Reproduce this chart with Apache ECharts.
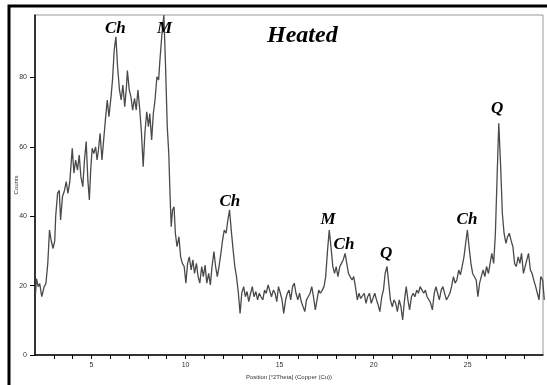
<!DOCTYPE html>
<html>
<head>
<meta charset="utf-8">
<script src="https://cdn.jsdelivr.net/npm/echarts@6/dist/echarts.min.js"></script>
<style>
  html, body { margin: 0; padding: 0; background: #fff; }
  #chart { width: 547px; height: 385px; }
</style>
</head>
<body>
<div id="chart"></div>
<script>
// position in degrees 2-theta
var twoTheta = [
  2.03,2.08,2.17,2.25,2.36,2.49,2.58,2.68,2.77,2.86,2.96,3.05,
  3.10,3.20,3.29,3.36,3.46,3.57,3.66,3.75,3.85,3.98,4.07,4.16,
  4.26,4.35,4.44,4.54,4.63,4.72,4.81,4.89,4.96,5.04,5.13,5.22,
  5.30,5.37,5.46,5.56,5.65,5.74,5.84,5.93,6.04,6.12,6.21,6.30,
  6.39,6.49,6.58,6.67,6.77,6.86,6.91,7.01,7.10,7.19,7.29,7.38,
  7.47,7.57,7.66,7.75,7.84,7.94,8.03,8.10,8.20,8.29,8.38,8.48,
  8.57,8.64,8.75,8.85,8.94,9.03,9.11,9.18,9.24,9.31,9.39,9.46,
  9.55,9.65,9.74,9.83,9.93,10.02,10.11,10.20,10.30,10.39,
  10.48,10.58,10.67,10.76,10.86,10.95,11.04,11.13,11.23,11.32,
  11.41,11.51,11.60,11.69,11.78,11.88,11.97,12.06,12.16,12.25,
  12.34,12.43,12.53,12.62,12.71,12.81,12.90,12.99,13.09,13.18,
  13.27,13.36,13.46,13.55,13.64,13.74,13.83,13.92,14.01,14.11,
  14.20,14.29,14.39,14.48,14.57,14.67,14.76,14.85,14.94,15.04,
  15.13,15.22,15.32,15.41,15.50,15.59,15.69,15.78,15.87,15.97,
  16.06,16.15,16.25,16.34,16.43,16.52,16.62,16.71,16.80,16.90,
  16.99,17.08,17.17,17.27,17.36,17.45,17.55,17.64,17.73,17.83,
  17.92,18.01,18.10,18.20,18.29,18.38,18.48,18.57,18.66,18.75,
  18.85,18.94,19.03,19.13,19.22,19.31,19.41,19.50,19.59,19.68,
  19.78,19.87,19.96,20.06,20.15,20.24,20.33,20.43,20.52,20.61,
  20.71,20.80,20.89,20.99,21.08,21.17,21.26,21.36,21.45,21.54,
  21.64,21.73,21.82,21.91,22.01,22.10,22.19,22.29,22.38,22.47,
  22.57,22.66,22.75,22.84,22.94,23.03,23.12,23.22,23.31,23.40,
  23.49,23.59,23.68,23.77,23.87,23.96,24.05,24.14,24.24,24.33,
  24.42,24.52,24.61,24.70,24.80,24.89,24.98,25.07,25.17,25.26,
  25.35,25.45,25.54,25.63,25.72,25.82,25.91,26.00,26.10,26.19,
  26.28,26.38,26.47,26.56,26.65,26.75,26.84,26.93,27.03,27.12,
  27.21,27.30,27.40,27.49,27.58,27.68,27.77,27.86,27.96,28.05,
  28.14,28.23,28.33,28.42,28.51,28.61,28.70,28.79,28.88,28.98,
  29.07
];

// counts
var counts = [
  17.8,22,19.7,20.6,16.8,19.7,20.6,26.4,36,33,30.7,33,
  40,46.6,47.5,38.9,45.6,47.5,50,46.6,50,59.6,52.4,56.2,
  53.3,57.6,51.4,48.5,56.2,61.5,50.4,44.7,53.3,59.6,58.1,60,
  56.2,59,63.9,56.2,62,67.7,73.5,68.7,74.4,79.3,87.9,91.7,
  83,76.4,73.5,77.8,71.6,77.3,82,76.4,74.4,70.6,74,70.6,
  76.4,70.6,63.9,54.3,63.9,70.1,65.8,69.6,62,69.6,73.5,80.2,
  79.3,85,92.7,98,83,65.8,58.1,45.6,37,41.8,42.7,35.1,
  31.2,34.1,28.3,26.4,25.5,20.7,26.4,28.3,24.5,27.4,
  23.5,26.4,22.6,20.7,25.5,22.6,25.9,20.7,23.5,20.2,
  25.5,29.8,25.5,22.6,25.5,29.3,33.1,36,35.1,38.9,
  41.8,36,30.3,25.5,22.6,17.8,12,17.8,19.7,16.8,
  18.3,15.4,17.8,19.7,16.8,18.3,15.9,17.8,16.8,15.9,
  18.7,17.8,20.2,19.7,16.8,18.7,17.8,15.4,19.7,17.8,
  15.9,12,15.9,17.8,18.7,15.9,19.7,20.7,17.8,15.9,
  17.8,15.4,15.9,12.5,15.9,16.8,17.8,19.7,16.8,13,
  15.9,18.7,17.8,18.7,19.7,22.6,30.3,36,31.2,25.5,
  23.5,25.5,22.6,25.5,26.4,27.4,29.3,26.4,23.5,22.6,
  21.6,22.6,19.7,15.9,17.8,16.3,15.9,17.8,14.9,16.8,
  17.8,14.9,16.3,17.8,15.9,14.4,12.5,16.8,18.7,23.5,
  25.5,20.7,15.9,13.9,15.9,14.9,12.5,15.9,13.9,10.1,
  15.9,19.7,15.9,13,16.8,17.8,16.8,18.7,17.8,19.7,
  18.7,17.8,18.7,16.8,15.9,14.9,13,17.8,19.7,17.8,
  15.9,18.7,19.7,17.8,15.9,16.8,17.8,19.7,22.6,20.7,
  21.6,24.5,23.1,25.5,28.3,32.2,36,31.2,26.4,23.5,
  23.5,21.6,16.8,20.7,22.6,24.5,22.6,25.5,23.5,26.4,
  29.3,26.4,35.1,51.4,66.8,54.3,40.8,35.1,32.2,34.1,
  35.1,33.1,31.2,26.4,25.5,28.3,26.4,29.3,23.5,25.5,
  27.4,29.3,24.5,23.5,21.6,19.7,17.8,15.9,22.6,21.6,
  15.9
];

// phase labels (Ch = chlorite, M = mica, Q = quartz) and where they sit
var peakNames = ['Ch', 'M', 'Ch', 'M', 'Ch', 'Q', 'Ch', 'Q'];
var peakPos = [6.27, 8.88, 12.36, 17.57, 18.42, 20.66, 24.96, 26.56];
var peakCounts = [94, 94, 44.1, 38.9, 31.7, 29.1, 38.9, 70.9];

var yTicks = [0, 20, 40, 60, 80];

var chart = echarts.init(document.getElementById('chart'));

var serif = '"Liberation Serif", "DejaVu Serif", serif';
var labelFont = { fontFamily: 'Liberation Sans, Arial, sans-serif', fontSize: 7, color: '#333' };

var option = {
  animation: false,
  title: {
    text: 'Heated',
    left: 262,
    top: 19,
    textStyle: { fontFamily: serif, fontStyle: 'italic', fontWeight: 'bold', fontSize: 24, color: '#000' }
  },
  grid: {
    left: 35, right: 4, top: 15, bottom: 30,
    containLabel: false,
    outerBoundsMode: 'none',
    show: true, borderColor: '#999', borderWidth: 1
  },
  xAxis: {
    type: 'value',
    min: 2, max: 29, interval: 1,
    name: 'Position [°2Theta] (Copper (Cu))',
    nameLocation: 'middle',
    nameGap: 19,
    nameMoveOverlap: false,
    nameTextStyle: { fontFamily: 'Liberation Sans, Arial, sans-serif', fontSize: 6, color: '#333' },
    splitLine: { show: false },
    axisLine: { lineStyle: { color: '#000', width: 1.5 } },
    axisTick: { length: 4, lineStyle: { color: '#000' } },
    axisLabel: Object.assign({
      margin: 7,
      showMinLabel: false, showMaxLabel: false,
      formatter: function (v) { return v % 5 === 0 ? String(v) : ''; }
    }, labelFont)
  },
  yAxis: {
    type: 'value',
    min: 0, max: 98, interval: 20,
    name: 'Counts',
    nameLocation: 'middle',
    nameGap: 16,
    nameRotate: 90,
    nameMoveOverlap: false,
    nameTextStyle: { fontFamily: 'Liberation Sans, Arial, sans-serif', fontSize: 6, color: '#333' },
    splitLine: { show: false },
    axisLine: { show: true, lineStyle: { color: '#000', width: 1.5 } },
    axisTick: { show: true, length: 5, lineStyle: { color: '#000' } },
    axisLabel: Object.assign({
      margin: 8,
      showMaxLabel: false,
      formatter: function (v) { return yTicks.indexOf(v) >= 0 ? String(v) : ''; }
    }, labelFont)
  },
  series: [{
    type: 'line',
    data: twoTheta.map(function (x, i) { return [x, counts[i]]; }),
    showSymbol: false,
    clip: true,
    lineStyle: { color: '#4a4a4a', width: 1.3 },
    markPoint: {
      symbol: 'circle',
      symbolSize: 0,
      label: {
        show: true,
        position: 'inside',
        formatter: '{b}',
        fontFamily: serif,
        fontStyle: 'italic',
        fontWeight: 'bold',
        fontSize: 17,
        color: '#000'
      },
      data: peakNames.map(function (n, i) {
        return { name: n, coord: [peakPos[i], peakCounts[i]] };
      })
    }
  }],
  graphic: [{
    type: 'rect',
    silent: true,
    shape: { x: 9, y: 6, width: 700, height: 700 },
    style: { fill: null, stroke: '#000', lineWidth: 3 }
  }]
};

chart.setOption(option);
</script>
</body>
</html>
